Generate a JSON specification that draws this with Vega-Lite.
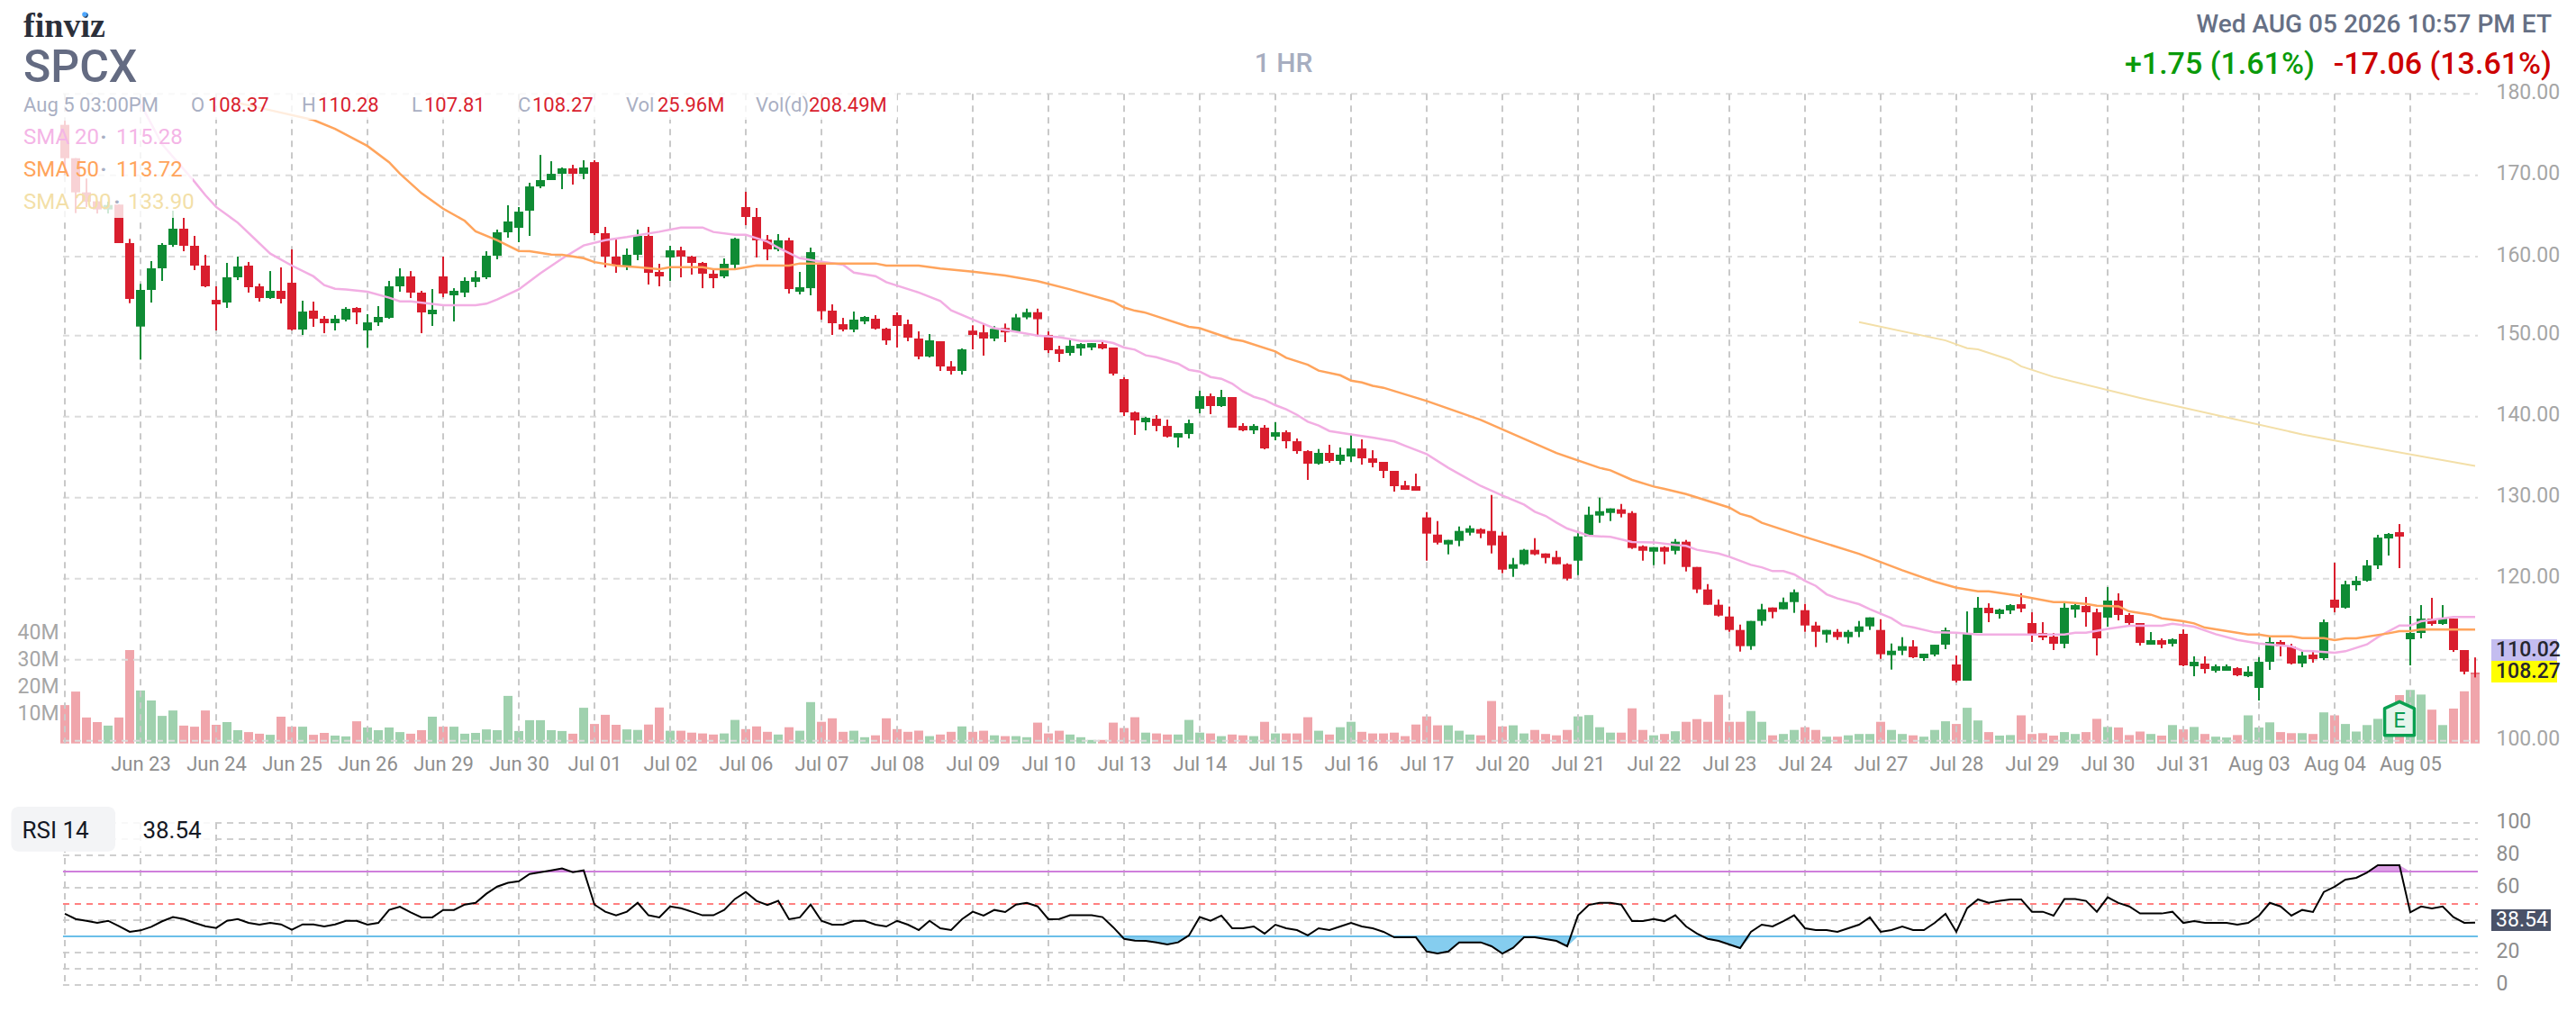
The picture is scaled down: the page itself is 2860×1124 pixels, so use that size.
{
"$schema":"https://vega.github.io/schema/vega-lite/v6.json",
"width":2860,"height":1124,"padding":0,"autosize":{"type":"none"},"background":"white",
"config":{"view":{"stroke":null},"text":{"font":"Roboto"},"axis":{"labelFont":"Roboto"}},
"datasets":{
"days":[{"b":0},{"b":7},{"b":14},{"b":21},{"b":28},{"b":35},{"b":42},{"b":49},{"b":56},{"b":63},{"b":70},{"b":77},{"b":84},{"b":91},{"b":98},{"b":105},{"b":112},{"b":119},{"b":126},{"b":133},{"b":140},{"b":147},{"b":154},{"b":161},{"b":168},{"b":175},{"b":182},{"b":189},{"b":196},{"b":203},{"b":210},{"b":217}],
"priceGrid":[{"p":100},{"p":110},{"p":120},{"p":130},{"p":140},{"p":150},{"p":160},{"p":170},{"p":180}],
"rsiGrid":[{"r":100},{"r":90},{"r":80},{"r":60},{"r":40},{"r":20},{"r":10},{"r":0}],
"sma20":[{"b":7,"s":178.8},{"b":9,"s":173.8},{"b":12,"s":169.2},{"b":13,"s":167.56},{"b":14,"s":166.1},{"b":16,"s":164.17},{"b":19,"s":160.37},{"b":21,"s":158.86},{"b":23,"s":157.5},{"b":24,"s":156.39},{"b":25,"s":155.93},{"b":26,"s":155.85},{"b":28,"s":155.55},{"b":30,"s":154.8},{"b":31,"s":154.33},{"b":32,"s":154.33},{"b":35,"s":153.84},{"b":38,"s":153.84},{"b":39,"s":154.03},{"b":40,"s":154.56},{"b":42,"s":155.85},{"b":44,"s":157.9},{"b":46,"s":159.74},{"b":48,"s":161.37},{"b":50,"s":162.03},{"b":52,"s":162.4},{"b":55,"s":163.06},{"b":57,"s":163.58},{"b":59,"s":163.58},{"b":60,"s":163.03},{"b":62,"s":162.69},{"b":63,"s":162.69},{"b":65,"s":161.85},{"b":66,"s":161.1},{"b":68,"s":159.8},{"b":70,"s":159.35},{"b":72,"s":158.97},{"b":73,"s":157.98},{"b":75,"s":157.53},{"b":76,"s":156.77},{"b":79,"s":155.45},{"b":81,"s":154.37},{"b":82,"s":153.19},{"b":84,"s":152.04},{"b":86,"s":150.93},{"b":88,"s":150.48},{"b":90,"s":150},{"b":92,"s":149.81},{"b":94,"s":149.33},{"b":96,"s":149.33},{"b":97,"s":149.07},{"b":98,"s":148.52},{"b":99,"s":148.26},{"b":100,"s":147.56},{"b":101,"s":147.33},{"b":103,"s":146.52},{"b":104,"s":145.78},{"b":105,"s":145.56},{"b":106,"s":144.89},{"b":107,"s":144.67},{"b":108,"s":144.07},{"b":109,"s":143.11},{"b":110,"s":142.44},{"b":111,"s":142.07},{"b":112,"s":141.41},{"b":113,"s":140.89},{"b":114,"s":140.22},{"b":115,"s":139.37},{"b":116,"s":138.89},{"b":117,"s":138.22},{"b":119,"s":137.81},{"b":121,"s":137.41},{"b":123,"s":136.93},{"b":124,"s":136.4},{"b":126,"s":135.37},{"b":128,"s":133.67},{"b":129,"s":132.93},{"b":131,"s":131.44},{"b":133,"s":130.26},{"b":135,"s":129.15},{"b":136,"s":128.26},{"b":137,"s":127.74},{"b":138,"s":126.93},{"b":139,"s":126.19},{"b":141,"s":125.3},{"b":143,"s":125.15},{"b":145,"s":124.52},{"b":147,"s":124.48},{"b":149,"s":124.15},{"b":150,"s":124.04},{"b":151,"s":123.56},{"b":153,"s":123.11},{"b":154,"s":122.7},{"b":156,"s":121.7},{"b":157,"s":121.4},{"b":158,"s":120.93},{"b":159,"s":120.93},{"b":160,"s":120.52},{"b":161,"s":119.74},{"b":162,"s":119.11},{"b":163,"s":118.07},{"b":164,"s":117.56},{"b":166,"s":116.85},{"b":167,"s":116.22},{"b":169,"s":115.11},{"b":170,"s":114.26},{"b":171,"s":114},{"b":173,"s":113.37},{"b":175,"s":113.33},{"b":177,"s":113.11},{"b":182,"s":113.11},{"b":185,"s":113.11},{"b":186,"s":113.33},{"b":187,"s":113.33},{"b":189,"s":113.81},{"b":191,"s":114.19},{"b":194,"s":114.19},{"b":195,"s":114.44},{"b":197,"s":114.07},{"b":199,"s":113.15},{"b":201,"s":112.44},{"b":203,"s":112},{"b":206,"s":111.63},{"b":207,"s":111.11},{"b":208,"s":111.04},{"b":210,"s":110.85},{"b":211,"s":111.04},{"b":213,"s":111.89},{"b":214,"s":112.78},{"b":216,"s":114.22},{"b":217,"s":114.22},{"b":218,"s":114.74},{"b":221,"s":115.28},{"b":223,"s":115.28}],
"sma50":[{"b":16,"s":178.9},{"b":19,"s":178},{"b":23,"s":176.8},{"b":25,"s":175.7},{"b":28,"s":173.6},{"b":30,"s":171.6},{"b":31,"s":170.2},{"b":33,"s":167.8},{"b":35,"s":165.9},{"b":37,"s":164.4},{"b":38,"s":163.1},{"b":40,"s":162},{"b":42,"s":160.7},{"b":43,"s":160.66},{"b":45,"s":160.26},{"b":46,"s":160.22},{"b":48,"s":159.8},{"b":49,"s":159.3},{"b":51,"s":158.86},{"b":53,"s":158.67},{"b":55,"s":158.4},{"b":56,"s":158.67},{"b":59,"s":158.67},{"b":60,"s":158.4},{"b":62,"s":158.4},{"b":64,"s":158.9},{"b":67,"s":158.86},{"b":68,"s":159.13},{"b":75,"s":159.13},{"b":76,"s":158.86},{"b":79,"s":158.86},{"b":81,"s":158.5},{"b":84,"s":158.1},{"b":87,"s":157.6},{"b":90,"s":156.9},{"b":93,"s":155.85},{"b":97,"s":154.3},{"b":98,"s":153.56},{"b":99,"s":153.15},{"b":100,"s":152.89},{"b":104,"s":151.1},{"b":105,"s":150.93},{"b":108,"s":149.56},{"b":109,"s":149.33},{"b":112,"s":148.04},{"b":113,"s":147.26},{"b":115,"s":146.4},{"b":116,"s":145.67},{"b":118,"s":145.1},{"b":119,"s":144.44},{"b":120,"s":144.22},{"b":121,"s":143.8},{"b":122,"s":143.56},{"b":126,"s":141.93},{"b":131,"s":139.6},{"b":138,"s":135.5},{"b":142,"s":133.67},{"b":143,"s":133.37},{"b":145,"s":132.19},{"b":147,"s":131.37},{"b":148,"s":131.07},{"b":150,"s":130.44},{"b":154,"s":128.77},{"b":155,"s":128},{"b":156,"s":127.63},{"b":157,"s":126.89},{"b":161,"s":125.15},{"b":166,"s":123.07},{"b":170,"s":121.04},{"b":173,"s":119.63},{"b":175,"s":118.89},{"b":177,"s":118.44},{"b":178,"s":118.44},{"b":181,"s":117.85},{"b":184,"s":117.11},{"b":185,"s":117.11},{"b":187,"s":116.89},{"b":188,"s":116.67},{"b":190,"s":116.59},{"b":191,"s":115.96},{"b":193,"s":115.56},{"b":194,"s":115.11},{"b":196,"s":114.74},{"b":197,"s":114.48},{"b":198,"s":113.96},{"b":202,"s":113.11},{"b":203,"s":113.11},{"b":204,"s":112.89},{"b":206,"s":112.89},{"b":207,"s":112.67},{"b":209,"s":112.67},{"b":210,"s":112.41},{"b":211,"s":112.63},{"b":212,"s":112.63},{"b":215,"s":113.26},{"b":216,"s":113.52},{"b":217,"s":113.52},{"b":218,"s":113.75},{"b":223,"s":113.72}],
"sma200":[{"b":166,"s":151.7},{"b":174,"s":149.4},{"b":176,"s":148.44},{"b":177,"s":148.3},{"b":180,"s":147},{"b":181,"s":146.2},{"b":184,"s":144.9},{"b":192,"s":142.3},{"b":207,"s":137.8},{"b":213,"s":136.3},{"b":223,"s":133.9}],
"bars":[
{"b":0,"o":176.2,"h":176.7,"l":170,"c":172.1,"v":14.2,"r":44},
{"b":1,"o":172.1,"h":172.1,"l":165.35,"c":167.9,"v":19.2,"r":40.7},
{"b":2,"o":167.9,"h":169.6,"l":166.1,"c":166.75,"v":9.6,"r":39.6},
{"b":3,"o":166.8,"h":166.9,"l":165.3,"c":165.8,"v":7.9,"r":38.3},
{"b":4,"o":165.8,"h":166.75,"l":165.3,"c":166.35,"v":6.6,"r":39.6},
{"b":5,"o":166.4,"h":166.4,"l":161.66,"c":161.66,"v":9.6,"r":36.3},
{"b":6,"o":161.66,"h":162.18,"l":154.1,"c":154.64,"v":34.6,"r":32.8},
{"b":7,"o":151.14,"h":156.54,"l":147.03,"c":155.78,"v":19.6,"r":33.7},
{"b":8,"o":155.78,"h":159.43,"l":154.18,"c":158.52,"v":15.9,"r":35.9},
{"b":9,"o":158.52,"h":161.66,"l":156.92,"c":161.44,"v":10.2,"r":39.3},
{"b":10,"o":161.44,"h":165.65,"l":161.2,"c":163.43,"v":12.2,"r":41.9},
{"b":11,"o":163.43,"h":164.76,"l":160.66,"c":161.33,"v":6.6,"r":40.7},
{"b":12,"o":161.33,"h":162.55,"l":158.29,"c":158.86,"v":6.2,"r":38.3},
{"b":13,"o":158.86,"h":160.22,"l":156.12,"c":156.24,"v":12.2,"r":36.3},
{"b":14,"o":154.52,"h":156.24,"l":150.65,"c":153.95,"v":6.9,"r":35.2},
{"b":15,"o":154.18,"h":159.2,"l":153.5,"c":157.38,"v":7.9,"r":39.6},
{"b":16,"o":157.38,"h":160,"l":157.03,"c":158.75,"v":4.9,"r":40.7},
{"b":17,"o":158.86,"h":159.32,"l":155.44,"c":156.12,"v":4.2,"r":38.3},
{"b":18,"o":156.24,"h":156.58,"l":154.3,"c":154.75,"v":3.6,"r":37.2},
{"b":19,"o":154.75,"h":158.17,"l":154.64,"c":155.67,"v":3.2,"r":38.3},
{"b":20,"o":155.67,"h":158.63,"l":154.07,"c":154.64,"v":9.9,"r":37.4},
{"b":21,"o":156.69,"h":160.89,"l":150.65,"c":150.76,"v":6.2,"r":34.1},
{"b":22,"o":150.76,"h":154.41,"l":150.08,"c":153.04,"v":6.2,"r":37.4},
{"b":23,"o":153.16,"h":154.3,"l":151.1,"c":152.13,"v":3.2,"r":37.4},
{"b":24,"o":152.13,"h":152.47,"l":150.3,"c":151.56,"v":3.9,"r":36.1},
{"b":25,"o":151.56,"h":152.59,"l":150.65,"c":152.13,"v":2.9,"r":37.4},
{"b":26,"o":152.02,"h":153.6,"l":151.79,"c":153.38,"v":2.6,"r":39.6},
{"b":27,"o":153.5,"h":153.6,"l":151.44,"c":152.93,"v":8.2,"r":39.6},
{"b":28,"o":150.65,"h":152.7,"l":148.48,"c":151.67,"v":5.9,"r":37.2},
{"b":29,"o":151.67,"h":153.73,"l":151.22,"c":152.36,"v":4.9,"r":38.3},
{"b":30,"o":152.24,"h":156.92,"l":152.13,"c":156.24,"v":5.9,"r":46.3},
{"b":31,"o":156.24,"h":158.52,"l":155.55,"c":157.49,"v":4.2,"r":48.3},
{"b":32,"o":157.49,"h":158.17,"l":154.75,"c":155.44,"v":3.6,"r":44.8},
{"b":33,"o":155.44,"h":155.67,"l":150.3,"c":152.93,"v":4.9,"r":41.7},
{"b":34,"o":152.7,"h":155.89,"l":151.22,"c":153.27,"v":9.9,"r":41.7},
{"b":35,"o":157.49,"h":160,"l":154.87,"c":155.32,"v":6.2,"r":46.3},
{"b":36,"o":155.1,"h":156,"l":151.79,"c":155.67,"v":6.2,"r":46.3},
{"b":37,"o":155.44,"h":157.38,"l":154.87,"c":156.92,"v":3.6,"r":49.6},
{"b":38,"o":156.81,"h":158.17,"l":156.12,"c":157.38,"v":3.9,"r":50.7},
{"b":39,"o":157.38,"h":160.66,"l":157.15,"c":160.11,"v":5.2,"r":56.3},
{"b":40,"o":160.11,"h":163.32,"l":159.66,"c":162.99,"v":4.9,"r":60.7},
{"b":41,"o":162.99,"h":166.31,"l":162.32,"c":164.32,"v":17.6,"r":63},
{"b":42,"o":163.54,"h":166.09,"l":161.77,"c":165.53,"v":4.6,"r":64},
{"b":43,"o":165.65,"h":169.08,"l":162.55,"c":168.63,"v":8.6,"r":68.5},
{"b":44,"o":168.63,"h":172.5,"l":168.41,"c":169.41,"v":8.6,"r":69.6},
{"b":45,"o":169.41,"h":171.73,"l":169.41,"c":170.18,"v":4.9,"r":70.7},
{"b":46,"o":170.18,"h":170.96,"l":168.3,"c":170.85,"v":4.6,"r":71.9},
{"b":47,"o":170.85,"h":171.29,"l":168.86,"c":170.18,"v":3.6,"r":69.6},
{"b":48,"o":170.18,"h":171.85,"l":169.52,"c":170.96,"v":13.2,"r":70.7},
{"b":49,"o":171.62,"h":171.85,"l":162.66,"c":162.88,"v":7.2,"r":49.6},
{"b":50,"o":162.88,"h":163.65,"l":158.63,"c":160,"v":10.6,"r":45.2},
{"b":51,"o":160,"h":162.1,"l":157.95,"c":158.86,"v":6.9,"r":43},
{"b":52,"o":158.86,"h":161,"l":158.29,"c":160.22,"v":5.2,"r":45.2},
{"b":53,"o":160.22,"h":163.32,"l":159.54,"c":162.55,"v":5,"r":50.7},
{"b":54,"o":162.55,"h":163.65,"l":156.46,"c":157.95,"v":7,"r":43},
{"b":55,"o":158.06,"h":159.09,"l":156.24,"c":157.49,"v":13.3,"r":41.7},
{"b":56,"o":159.89,"h":161.33,"l":156.92,"c":160.77,"v":4.7,"r":48.5},
{"b":57,"o":160.77,"h":161.22,"l":157.38,"c":160,"v":4.7,"r":47.4},
{"b":58,"o":160,"h":160.1,"l":157.72,"c":159.2,"v":4,"r":45.2},
{"b":59,"o":159.2,"h":159.32,"l":156,"c":157.83,"v":3.7,"r":43},
{"b":60,"o":157.83,"h":158.29,"l":156,"c":157.26,"v":3.3,"r":43},
{"b":61,"o":157.49,"h":159.77,"l":157.26,"c":159.09,"v":3.7,"r":46.3},
{"b":62,"o":158.97,"h":162.32,"l":158.4,"c":162.2,"v":8.7,"r":53.1},
{"b":63,"o":166.09,"h":167.97,"l":163.87,"c":164.87,"v":5.3,"r":57.4},
{"b":64,"o":164.87,"h":165.98,"l":159.89,"c":162,"v":6.3,"r":51.9},
{"b":65,"o":162.1,"h":162.66,"l":159.54,"c":160.89,"v":4.3,"r":49.4},
{"b":66,"o":160.89,"h":162.77,"l":160.66,"c":162,"v":3.3,"r":51.9},
{"b":67,"o":162,"h":162.32,"l":155.32,"c":155.89,"v":6,"r":40.6},
{"b":68,"o":155.55,"h":158.06,"l":155.21,"c":156.12,"v":4.7,"r":41.7},
{"b":69,"o":156,"h":161.11,"l":155.1,"c":160.55,"v":15.3,"r":49.6},
{"b":70,"o":159.09,"h":159.43,"l":152.01,"c":153.08,"v":8,"r":39.6},
{"b":71,"o":153.16,"h":153.95,"l":150.08,"c":151.56,"v":9.3,"r":37.2},
{"b":72,"o":151.44,"h":152.24,"l":150.53,"c":150.76,"v":4.3,"r":37.2},
{"b":73,"o":150.76,"h":153.04,"l":150.42,"c":152.02,"v":4.7,"r":39.6},
{"b":74,"o":151.79,"h":152.47,"l":151.44,"c":152.36,"v":2.3,"r":39.6},
{"b":75,"o":152.13,"h":152.59,"l":150.76,"c":150.87,"v":3,"r":37.2},
{"b":76,"o":150.87,"h":150.99,"l":148.85,"c":149.4,"v":9.3,"r":36.1},
{"b":77,"o":152.59,"h":152.93,"l":148.52,"c":151.22,"v":5.3,"r":39.6},
{"b":78,"o":151.44,"h":152.02,"l":149.3,"c":149.74,"v":4.3,"r":37.2},
{"b":79,"o":149.63,"h":150.53,"l":147.07,"c":147.41,"v":4.7,"r":33.9},
{"b":80,"o":147.41,"h":150.19,"l":147.3,"c":149.41,"v":2.7,"r":39.6},
{"b":81,"o":149.3,"h":149.3,"l":145.63,"c":146.19,"v":3.3,"r":35},
{"b":82,"o":146.19,"h":146.85,"l":145.19,"c":145.63,"v":4.3,"r":33.9},
{"b":83,"o":145.63,"h":148.41,"l":145.19,"c":148.3,"v":6.3,"r":40.6},
{"b":84,"o":150.63,"h":151.3,"l":148.3,"c":150.07,"v":4.3,"r":45.2},
{"b":85,"o":150.41,"h":151.52,"l":147.52,"c":149.63,"v":4.7,"r":42.8},
{"b":86,"o":149.63,"h":151.19,"l":149.3,"c":150.85,"v":3,"r":46.3},
{"b":87,"o":150.96,"h":151.52,"l":149.19,"c":150.41,"v":2.7,"r":45},
{"b":88,"o":150.52,"h":152.74,"l":150.52,"c":152.3,"v":2.7,"r":49.6},
{"b":89,"o":152.3,"h":153.41,"l":152.07,"c":152.96,"v":2.3,"r":50.7},
{"b":90,"o":152.96,"h":153.41,"l":149.85,"c":152.07,"v":7.7,"r":48.5},
{"b":91,"o":150.07,"h":150.52,"l":147.85,"c":148.19,"v":3.7,"r":40.6},
{"b":92,"o":148.3,"h":148.74,"l":146.74,"c":147.74,"v":4.7,"r":40.7},
{"b":93,"o":147.85,"h":149.52,"l":147.52,"c":148.74,"v":3.3,"r":43},
{"b":94,"o":148.41,"h":149.07,"l":147.52,"c":148.96,"v":2.3,"r":43},
{"b":95,"o":148.52,"h":149.07,"l":148.19,"c":149.07,"v":1.3,"r":43},
{"b":96,"o":148.96,"h":149.19,"l":148.3,"c":148.41,"v":1.3,"r":41.9},
{"b":97,"o":148.52,"h":148.52,"l":145.07,"c":145.3,"v":7.7,"r":35.6},
{"b":98,"o":144.63,"h":144.85,"l":140.07,"c":140.52,"v":5.7,"r":28.5},
{"b":99,"o":140.52,"h":140.63,"l":137.74,"c":139.52,"v":9.7,"r":27.4},
{"b":100,"o":139.3,"h":139.96,"l":138.3,"c":139.85,"v":4,"r":27.2},
{"b":101,"o":139.74,"h":140.19,"l":138.19,"c":138.85,"v":3.7,"r":26.3},
{"b":102,"o":138.85,"h":139.63,"l":137.41,"c":137.52,"v":3.3,"r":25},
{"b":103,"o":137.41,"h":137.96,"l":136.19,"c":137.96,"v":3.3,"r":26.3},
{"b":104,"o":137.85,"h":139.63,"l":137.3,"c":139.19,"v":8.7,"r":30.6},
{"b":105,"o":140.96,"h":143.19,"l":140.41,"c":142.52,"v":4,"r":41.9},
{"b":106,"o":142.52,"h":142.85,"l":140.3,"c":141.3,"v":3.7,"r":39.6},
{"b":107,"o":141.3,"h":143.3,"l":141.19,"c":142.41,"v":2.7,"r":42.8},
{"b":108,"o":142.41,"h":142.41,"l":138.63,"c":138.63,"v":3.3,"r":35},
{"b":109,"o":138.85,"h":139.19,"l":138.19,"c":138.3,"v":3,"r":35},
{"b":110,"o":138.3,"h":139.07,"l":137.85,"c":138.85,"v":2.7,"r":36.1},
{"b":111,"o":138.63,"h":138.96,"l":135.96,"c":136.07,"v":8,"r":31.7},
{"b":112,"o":137.52,"h":139.3,"l":137.07,"c":138.07,"v":3.7,"r":37.2},
{"b":113,"o":138.07,"h":138.3,"l":136.07,"c":136.96,"v":3.7,"r":35},
{"b":114,"o":136.96,"h":137.3,"l":135.41,"c":135.74,"v":3.7,"r":33.9},
{"b":115,"o":135.74,"h":135.85,"l":132.19,"c":134.19,"v":9.7,"r":30.6},
{"b":116,"o":134.19,"h":136,"l":134.07,"c":135.52,"v":4.7,"r":35},
{"b":117,"o":135.52,"h":136.52,"l":134.3,"c":134.52,"v":3.3,"r":33.9},
{"b":118,"o":134.52,"h":136.19,"l":134.07,"c":135.3,"v":6,"r":36.1},
{"b":119,"o":135.07,"h":137.74,"l":134.41,"c":136.07,"v":8,"r":38.3},
{"b":120,"o":136.07,"h":137.19,"l":134.07,"c":134.85,"v":4.3,"r":36.1},
{"b":121,"o":134.85,"h":135.85,"l":133.74,"c":134.3,"v":3.7,"r":35},
{"b":122,"o":134.41,"h":134.41,"l":132.41,"c":133.3,"v":3.7,"r":32.8},
{"b":123,"o":133.3,"h":133.3,"l":130.74,"c":131.41,"v":4,"r":29.4},
{"b":124,"o":131.52,"h":132.07,"l":130.96,"c":130.96,"v":2.7,"r":29.4},
{"b":125,"o":131.41,"h":132.96,"l":130.85,"c":130.85,"v":7,"r":29.4},
{"b":126,"o":127.56,"h":128.22,"l":122.22,"c":125.56,"v":10,"r":20.7},
{"b":127,"o":125.44,"h":127.11,"l":124.22,"c":124.44,"v":6.7,"r":19.4},
{"b":128,"o":124.22,"h":124.78,"l":123,"c":124.78,"v":6.7,"r":20.7},
{"b":129,"o":124.67,"h":126.44,"l":124,"c":125.89,"v":4.7,"r":26.3},
{"b":130,"o":125.67,"h":126.56,"l":125.33,"c":126.22,"v":3.3,"r":26.3},
{"b":131,"o":126.11,"h":126.22,"l":125,"c":125.56,"v":3,"r":26.3},
{"b":132,"o":125.89,"h":130.33,"l":123.11,"c":124.11,"v":15.7,"r":23.9},
{"b":133,"o":125.33,"h":125.78,"l":120.67,"c":121.11,"v":6.3,"r":19.4},
{"b":134,"o":121.22,"h":122.56,"l":120.22,"c":121.78,"v":6.7,"r":23},
{"b":135,"o":121.78,"h":123.67,"l":121.67,"c":123.56,"v":3.7,"r":29.4},
{"b":136,"o":123.56,"h":125,"l":122.89,"c":123,"v":5,"r":29.4},
{"b":137,"o":123.11,"h":123.11,"l":121.89,"c":122.56,"v":3.5,"r":28.3},
{"b":138,"o":122.67,"h":123.44,"l":121.78,"c":121.78,"v":3,"r":27.2},
{"b":139,"o":121.78,"h":121.89,"l":119.78,"c":120,"v":5,"r":23.9},
{"b":140,"o":122.22,"h":125.78,"l":120.44,"c":125.22,"v":10,"r":43},
{"b":141,"o":125.22,"h":128.89,"l":125.22,"c":127.89,"v":10.5,"r":49.4},
{"b":142,"o":127.78,"h":130,"l":126.89,"c":128.33,"v":6,"r":50.7},
{"b":143,"o":128.11,"h":128.67,"l":127.11,"c":128.67,"v":4,"r":50.7},
{"b":144,"o":128.56,"h":129.22,"l":127.56,"c":128,"v":4,"r":49.6},
{"b":145,"o":128.11,"h":128.33,"l":123.67,"c":123.78,"v":13,"r":39.4},
{"b":146,"o":124,"h":124.11,"l":122.22,"c":123.44,"v":5,"r":39.4},
{"b":147,"o":123.33,"h":123.89,"l":121.67,"c":123.89,"v":3,"r":40.7},
{"b":148,"o":123.89,"h":124,"l":121.78,"c":123.33,"v":3.5,"r":39.4},
{"b":149,"o":123.44,"h":124.89,"l":123,"c":124.56,"v":4.5,"r":43},
{"b":150,"o":124.56,"h":124.78,"l":120.89,"c":121.44,"v":8,"r":36.1},
{"b":151,"o":121.44,"h":121.44,"l":118.22,"c":118.67,"v":9,"r":31.7},
{"b":152,"o":118.67,"h":119.33,"l":116.78,"c":116.78,"v":8,"r":28.5},
{"b":153,"o":116.78,"h":117.44,"l":115.33,"c":115.44,"v":18,"r":27.2},
{"b":154,"o":115.33,"h":116.56,"l":113.44,"c":113.67,"v":8,"r":25},
{"b":155,"o":113.67,"h":114.33,"l":111,"c":111.67,"v":8,"r":22.8},
{"b":156,"o":111.67,"h":114.78,"l":111.22,"c":114.78,"v":12,"r":32.8},
{"b":157,"o":114.78,"h":116.89,"l":114.22,"c":116.22,"v":8,"r":37.2},
{"b":158,"o":116.44,"h":116.44,"l":115.11,"c":115.89,"v":3,"r":36.1},
{"b":159,"o":116.22,"h":117.67,"l":116.22,"c":117.11,"v":3.5,"r":39.4},
{"b":160,"o":117.11,"h":118.67,"l":115.78,"c":118.33,"v":5,"r":43},
{"b":161,"o":116.11,"h":116.89,"l":113.44,"c":114.22,"v":6,"r":35},
{"b":162,"o":114.22,"h":114.67,"l":111.56,"c":113.44,"v":5,"r":33.9},
{"b":163,"o":113.11,"h":113.67,"l":112.11,"c":113.67,"v":2.5,"r":33.9},
{"b":164,"o":113.44,"h":113.78,"l":112.44,"c":112.78,"v":2.5,"r":32.8},
{"b":165,"o":112.78,"h":113.67,"l":112,"c":113.44,"v":3,"r":35},
{"b":166,"o":113.44,"h":114.78,"l":112.78,"c":114.11,"v":3.5,"r":37.2},
{"b":167,"o":114.11,"h":115.22,"l":113.67,"c":115.22,"v":3.5,"r":41.7},
{"b":168,"o":113.67,"h":115,"l":110.11,"c":110.67,"v":8,"r":32.8},
{"b":169,"o":110.56,"h":112,"l":108.78,"c":111.11,"v":5,"r":33.9},
{"b":170,"o":111.11,"h":112.78,"l":110.56,"c":111.67,"v":3.5,"r":36.1},
{"b":171,"o":111.63,"h":112.41,"l":110.19,"c":110.3,"v":3,"r":33.9},
{"b":172,"o":110.19,"h":110.74,"l":109.85,"c":110.74,"v":2.5,"r":33.9},
{"b":173,"o":110.63,"h":111.85,"l":110.41,"c":111.85,"v":5,"r":38.3},
{"b":174,"o":111.85,"h":113.96,"l":111.3,"c":113.63,"v":8.2,"r":43.9},
{"b":175,"o":109.41,"h":110.52,"l":107.19,"c":107.41,"v":7.2,"r":32.8},
{"b":176,"o":107.41,"h":115.96,"l":107.41,"c":113.3,"v":13.2,"r":47.4},
{"b":177,"o":113.3,"h":117.74,"l":113.3,"c":116.41,"v":8.5,"r":52.8},
{"b":178,"o":116.41,"h":116.96,"l":114.63,"c":115.74,"v":4.2,"r":50.7},
{"b":179,"o":115.63,"h":116.3,"l":115.07,"c":116.19,"v":2.9,"r":51.9},
{"b":180,"o":116.07,"h":116.85,"l":115.63,"c":116.74,"v":3.1,"r":52.8},
{"b":181,"o":116.85,"h":118.19,"l":115.85,"c":116.3,"v":10.4,"r":52.8},
{"b":182,"o":114.52,"h":115.85,"l":112.19,"c":113.19,"v":3.5,"r":45.2},
{"b":183,"o":113.3,"h":114.63,"l":112.41,"c":112.74,"v":3.8,"r":45.2},
{"b":184,"o":112.85,"h":113.3,"l":111.19,"c":111.96,"v":2.9,"r":42.8},
{"b":185,"o":111.96,"h":116.96,"l":111.41,"c":116.41,"v":4.2,"r":53},
{"b":186,"o":116.19,"h":117.07,"l":115.19,"c":116.74,"v":3.5,"r":53},
{"b":187,"o":116.63,"h":117.74,"l":114.07,"c":115.85,"v":4.2,"r":51.9},
{"b":188,"o":115.85,"h":116.3,"l":110.52,"c":112.63,"v":9.1,"r":45.2},
{"b":189,"o":115.19,"h":118.96,"l":114.07,"c":117.3,"v":6.1,"r":54.1},
{"b":190,"o":117.3,"h":118.19,"l":114.85,"c":115.52,"v":5.9,"r":50.6},
{"b":191,"o":115.52,"h":115.74,"l":114.3,"c":114.52,"v":3.1,"r":48.5},
{"b":192,"o":114.52,"h":114.52,"l":111.74,"c":112.07,"v":4.4,"r":44.1},
{"b":193,"o":111.85,"h":113.41,"l":111.85,"c":112.41,"v":3.5,"r":44.1},
{"b":194,"o":112.41,"h":112.63,"l":111.41,"c":111.85,"v":2.9,"r":44.1},
{"b":195,"o":111.96,"h":112.63,"l":111.63,"c":112.52,"v":6.8,"r":45.2},
{"b":196,"o":113.19,"h":113.74,"l":109.19,"c":109.3,"v":5.2,"r":38.3},
{"b":197,"o":109.19,"h":110.41,"l":107.96,"c":109.74,"v":6.1,"r":39.4},
{"b":198,"o":109.52,"h":110.41,"l":108.3,"c":108.85,"v":3.5,"r":38.3},
{"b":199,"o":108.63,"h":109.41,"l":108.41,"c":109.19,"v":2.5,"r":38.3},
{"b":200,"o":108.63,"h":109.41,"l":108.63,"c":109.19,"v":2.2,"r":38.3},
{"b":201,"o":108.96,"h":109.07,"l":107.96,"c":108.07,"v":3.1,"r":37.2},
{"b":202,"o":107.96,"h":109.19,"l":107.85,"c":108.52,"v":10.4,"r":38.3},
{"b":203,"o":106.52,"h":110.3,"l":104.96,"c":109.74,"v":5.9,"r":42.8},
{"b":204,"o":109.74,"h":112.85,"l":108.74,"c":112.19,"v":7.8,"r":50.7},
{"b":205,"o":112.19,"h":112.41,"l":110.41,"c":111.63,"v":4.2,"r":48.5},
{"b":206,"o":111.63,"h":111.96,"l":109.41,"c":109.52,"v":3.8,"r":42.8},
{"b":207,"o":109.52,"h":111.07,"l":109.07,"c":110.52,"v":3.8,"r":46.3},
{"b":208,"o":110.63,"h":111.07,"l":109.63,"c":110.07,"v":3.5,"r":45},
{"b":209,"o":110.19,"h":114.96,"l":109.96,"c":114.63,"v":11.5,"r":57.4},
{"b":210,"o":117.41,"h":121.96,"l":115.85,"c":116.41,"v":10.4,"r":60.6},
{"b":211,"o":116.41,"h":119.74,"l":116.3,"c":119.3,"v":7.2,"r":65},
{"b":212,"o":119.19,"h":120.3,"l":118.52,"c":119.74,"v":4.4,"r":66.1},
{"b":213,"o":119.74,"h":122.3,"l":119.63,"c":121.63,"v":6.8,"r":69.4},
{"b":214,"o":121.63,"h":125.41,"l":121.19,"c":125.07,"v":9.1,"r":73.9},
{"b":215,"o":124.96,"h":125.63,"l":122.85,"c":125.52,"v":6,"r":73.9},
{"b":216,"o":125.74,"h":126.74,"l":121.3,"c":125.19,"v":17.9,"r":73.9},
{"b":217,"o":112.52,"h":115.41,"l":109.3,"c":113.3,"v":19.8,"r":44.8},
{"b":218,"o":113.3,"h":116.74,"l":112.63,"c":115.07,"v":18.1,"r":48.4},
{"b":219,"o":115.07,"h":117.63,"l":114.19,"c":114.41,"v":12.5,"r":47.2},
{"b":220,"o":114.41,"h":116.74,"l":114.3,"c":115.07,"v":6.8,"r":48.4},
{"b":221,"o":115.07,"h":115.07,"l":110.96,"c":111.19,"v":12.9,"r":41.8},
{"b":222,"o":111.19,"h":111.19,"l":108.19,"c":108.52,"v":19.3,"r":38.4},
{"b":223,"o":108.37,"h":110.28,"l":107.81,"c":108.27,"v":25.96,"r":38.54}
]},
"data":{"name":"bars"},
"resolve":{"scale":{"y":"independent"},"axis":{"x":"independent","y":"independent"}},
"layer":[
{"layer":[
 {"mark":{"type":"bar","size":10,"orient":"vertical","opacity":0.4},"encoding":{
  "x":{"field":"b","type":"quantitative","title":null,"scale":{"domain":[-6,232.333],"nice":false,"zero":false,"padding":0},
  "axis":{"orient":"bottom","offset":-289,"values":[7,14,21,28,35,42,49,56,63,70,77,84,91,98,105,112,119,126,133,140,147,154,161,168,175,182,189,196,203,210,217],
  "labelExpr":"['Jun 23','Jun 24','Jun 25','Jun 26','Jun 29','Jun 30','Jul 01','Jul 02','Jul 06','Jul 07','Jul 08','Jul 09','Jul 10','Jul 13','Jul 14','Jul 15','Jul 16','Jul 17','Jul 20','Jul 21','Jul 22','Jul 23','Jul 24','Jul 27','Jul 28','Jul 29','Jul 30','Jul 31','Aug 03','Aug 04','Aug 05'][datum.value/7-1]",
  "domain":false,"ticks":false,"grid":false,"labelFontSize":22,"labelColor":"#8e8e8e","labelPadding":3,"labelOverlap":false,"labelFlush":false,"title":null}},
  "y":{"field":"v","type":"quantitative","title":null,"scale":{"domain":[0,40],"range":[825.7,705.7],"nice":false},"axis":{"orient":"left","offset":-70,"values":[10,20,30,40],"labelExpr":"datum.value+'M'","domain":false,"ticks":false,"grid":false,"labelFontSize":23,"labelColor":"#a6a6a6","labelPadding":5,"labelOffset":-3.5,"title":null}},
  "color":{"condition":{"test":"datum.c>=datum.o","value":"#0f8b34"},"value":"#d91e2e"}}}
]},
{"layer":[
 {"data":{"name":"priceGrid"},"mark":{"type":"rule","color":"#dcdcdc","strokeWidth":2,"strokeDash":[7,6]},"encoding":{
  "y":{"field":"p","type":"quantitative","title":null,"scale":{"domain":[100,150,160,170,180],"range":[822.7,372.7,285,194.7,104.3],"nice":false,"zero":false},"axis":{"orient":"right","offset":-95,"values":[100,120,130,140,150,160,170,180],"format":".2f","domain":false,"ticks":false,"grid":false,"labelFontSize":23,"labelColor":"#a6a6a6","labelPadding":6,"labelAlign":"left","labelOffset":-2,"title":null}},
  "x":{"datum":-0.17,"axis":null},"x2":{"datum":223.25}}}
]},
{"layer":[
 {"data":{"name":"days"},"mark":{"type":"rule","color":"#c9c9c9","strokeWidth":2,"strokeDash":[7,6]},"encoding":{"x":{"field":"b","type":"quantitative","axis":null},"y":{"datum":180,"axis":null,"scale":{"domain":[100,150,160,170,180],"range":[822.7,372.7,285,194.7,104.3],"nice":false,"zero":false}},"y2":{"datum":99.7}}},
 {"mark":{"type":"rule","strokeWidth":2},"encoding":{"x":{"field":"b","type":"quantitative","axis":null},"y":{"field":"l","type":"quantitative","axis":null},"y2":{"field":"h"},"color":{"condition":{"test":"datum.c>=datum.o","value":"#0f8b34"},"value":"#d91e2e"}}},
 {"mark":{"type":"bar","size":10,"orient":"vertical"},"encoding":{"x":{"field":"b","type":"quantitative","axis":null},"y":{"field":"o","type":"quantitative","axis":null},"y2":{"field":"c"},"color":{"condition":{"test":"datum.c>=datum.o","value":"#0f8b34"},"value":"#d91e2e"}}},
 {"data":{"name":"sma20"},"mark":{"type":"line","color":"#f2aee3","strokeWidth":2.5},"encoding":{"x":{"field":"b","type":"quantitative","axis":null},"y":{"field":"s","type":"quantitative","axis":null}}},
 {"data":{"name":"sma50"},"mark":{"type":"line","color":"#ffa45c","strokeWidth":2.5},"encoding":{"x":{"field":"b","type":"quantitative","axis":null},"y":{"field":"s","type":"quantitative","axis":null}}},
 {"data":{"name":"sma200"},"mark":{"type":"line","color":"#f3dfa8","strokeWidth":2},"encoding":{"x":{"field":"b","type":"quantitative","axis":null},"y":{"field":"s","type":"quantitative","axis":null}}},
 {"data":{"values":[{"t":"legend panel"}]},"mark":{"type":"rect","fill":"white","opacity":0.8},"encoding":{"x":{"datum":-6,"axis":null},"x2":{"datum":11.83},"y":{"datum":181,"axis":null},"y2":{"datum":164.76}}},
 {"data":{"values":[{"t":"info panel"}]},"mark":{"type":"rect","fill":"white","opacity":0.8},"encoding":{"x":{"datum":11.83,"axis":null},"x2":{"datum":77},"y":{"datum":181,"axis":null},"y2":{"datum":176.83}}},
 {"data":{"values":[{"t":"finviz"}]},"mark":{"type":"text","font":"Liberation Serif","fontWeight":"bold","fontSize":38,"align":"left","color":"#2b2f3a"},"encoding":{"x":{"datum":-3.83,"axis":null},"y":{"datum":188.2,"axis":null},"text":{"field":"t"}}},
 {"data":{"values":[{"t":"dot"}]},"mark":{"type":"point","filled":true,"size":30,"color":"#4da6ff","opacity":1},"encoding":{"x":{"datum":1.83,"axis":null},"y":{"datum":189.77,"axis":null}}},
 {"data":{"values":[{"t":"SPCX"}]},"mark":{"type":"text","fontWeight":500,"fontSize":50,"align":"left","color":"#646b82"},"encoding":{"x":{"datum":-3.83,"axis":null},"y":{"datum":183.15,"axis":null},"text":{"field":"t"}}},
 {"data":{"values":[{"t":"1 HR"}]},"mark":{"type":"text","fontWeight":500,"fontSize":30,"align":"center","color":"#a6adc0"},"encoding":{"x":{"datum":112.75,"axis":null},"y":{"datum":183.68,"axis":null},"text":{"field":"t"}}},
 {"data":{"values":[{"t":"Wed AUG 05 2026 10:57 PM ET"}]},"mark":{"type":"text","fontWeight":500,"fontSize":28,"align":"right","color":"#667085"},"encoding":{"x":{"datum":230.08,"axis":null},"y":{"datum":188.44,"axis":null},"text":{"field":"t"}}},
 {"data":{"values":[{"t":"+1.75 (1.61%)"}]},"mark":{"type":"text","fontWeight":500,"fontSize":34,"align":"left","color":"#0a9a0a"},"encoding":{"x":{"datum":190.58,"axis":null},"y":{"datum":183.57,"axis":null},"text":{"field":"t"}}},
 {"data":{"values":[{"t":"-17.06 (13.61%)"}]},"mark":{"type":"text","fontWeight":500,"fontSize":34,"align":"right","color":"#cc0000"},"encoding":{"x":{"datum":230.08,"axis":null},"y":{"datum":183.57,"axis":null},"text":{"field":"t"}}},
 {"data":{"values":[{"t":"Aug 5 03:00PM","a":-3.83},{"t":"O","a":11.67},{"t":"H","a":21.92},{"t":"L","a":32.08},{"t":"C","a":41.92},{"t":"Vol","a":51.92},{"t":"Vol(d)","a":63.92}]},"mark":{"type":"text","fontSize":22,"align":"left","color":"#a9afc3"},"encoding":{"x":{"field":"a","type":"quantitative","axis":null},"y":{"datum":178.6,"axis":null},"text":{"field":"t"}}},
 {"data":{"values":[{"t":"108.37","a":13.25},{"t":"110.28","a":23.42},{"t":"107.81","a":33.25},{"t":"108.27","a":43.25},{"t":"25.96M","a":54.83},{"t":"208.49M","a":68.83}]},"mark":{"type":"text","fontSize":22,"align":"left","color":"#d91e2e"},"encoding":{"x":{"field":"a","type":"quantitative","axis":null},"y":{"datum":178.6,"axis":null},"text":{"field":"t"}}},
 {"data":{"values":[{"t":"SMA 20","a":-3.83},{"t":"115.28","a":4.75}]},"mark":{"type":"text","fontSize":24,"align":"left","color":"#f4b5e6"},"encoding":{"x":{"field":"a","type":"quantitative","axis":null},"y":{"datum":174.6,"axis":null},"text":{"field":"t"}}},
 {"data":{"values":[{"t":"SMA 50","a":-3.83},{"t":"113.72","a":4.75}]},"mark":{"type":"text","fontSize":24,"align":"left","color":"#ffa45c"},"encoding":{"x":{"field":"a","type":"quantitative","axis":null},"y":{"datum":170.6,"axis":null},"text":{"field":"t"}}},
 {"data":{"values":[{"t":"SMA 200","a":-3.83},{"t":"133.90","a":5.83}]},"mark":{"type":"text","fontSize":24,"align":"left","color":"#f3dfa8"},"encoding":{"x":{"field":"a","type":"quantitative","axis":null},"y":{"datum":166.64,"axis":null},"text":{"field":"t"}}},
 {"data":{"values":[{"t":"·","a":3.58,"p":174.6},{"t":"·","a":3.58,"p":170.6},{"t":"·","a":4.83,"p":166.64}]},"mark":{"type":"text","fontSize":24,"fontWeight":"bold","align":"center","color":"#a9afc3"},"encoding":{"x":{"field":"a","type":"quantitative","axis":null},"y":{"field":"p","type":"quantitative","axis":null},"text":{"field":"t"}}},
 {"data":{"values":[{"t":"tag"}]},"mark":{"type":"rect","fill":"#c4bdf0"},"encoding":{"x":{"datum":224.5,"axis":null},"x2":{"datum":230.58},"y":{"datum":112.52,"axis":null},"y2":{"datum":109.86}}},
 {"data":{"values":[{"t":"tag"}]},"mark":{"type":"rect","fill":"#ffff00"},"encoding":{"x":{"datum":224.5,"axis":null},"x2":{"datum":230.58},"y":{"datum":109.86,"axis":null},"y2":{"datum":107.19}}},
 {"data":{"values":[{"t":"110.02"}]},"mark":{"type":"text","fontSize":23,"fontWeight":500,"align":"left","color":"#26262e"},"encoding":{"x":{"datum":224.92,"axis":null},"y":{"datum":111.24,"axis":null},"text":{"field":"t"}}},
 {"data":{"values":[{"t":"108.27"}]},"mark":{"type":"text","fontSize":23,"fontWeight":500,"align":"left","color":"#26262e"},"encoding":{"x":{"datum":224.92,"axis":null},"y":{"datum":108.52,"axis":null},"text":{"field":"t"}}},
 {"data":{"values":[{"t":"earnings"}]},"mark":{"type":"point","filled":true,"fill":"#e6f5ec","stroke":"#0aa050","strokeWidth":3.5,"opacity":1,"size":1400,"strokeJoin":"round","shape":"M-0.88,-0.6 L0,-1 L0.88,-0.6 L0.88,1 L-0.88,1 Z"},"encoding":{"x":{"datum":216,"axis":null},"y":{"datum":102.74,"axis":null}}},
 {"data":{"values":[{"t":"E"}]},"mark":{"type":"text","fontSize":24,"align":"center","color":"#0a9a50"},"encoding":{"x":{"datum":216,"axis":null},"y":{"datum":102.4,"axis":null},"text":{"field":"t"}}}
]},
{"layer":[
 {"data":{"name":"rsiGrid"},"mark":{"type":"rule","color":"#cfcfcf","strokeWidth":2,"strokeDash":[7,6]},"encoding":{
  "y":{"field":"r","type":"quantitative","title":null,"scale":{"domain":[0,100],"range":[1094,914],"nice":false},"axis":{"orient":"right","offset":-95,"values":[0,20,60,80,100],"domain":false,"ticks":false,"grid":false,"labelFontSize":23,"labelColor":"#8e8e8e","labelPadding":6,"labelAlign":"left","labelOffset":-1.5,"title":null}},
  "x":{"datum":-0.17,"axis":null},"x2":{"datum":223.25}}}
]},
{"layer":[
 {"data":{"name":"days"},"mark":{"type":"rule","color":"#c9c9c9","strokeWidth":2,"strokeDash":[7,6]},"encoding":{"x":{"field":"b","type":"quantitative","axis":null},"y":{"datum":100,"axis":null,"scale":{"domain":[0,100],"range":[1094,914],"nice":false}},"y2":{"datum":0}}},
 {"data":{"values":[{"r":50}]},"mark":{"type":"rule","color":"#ff8080","strokeWidth":2,"strokeDash":[7,6]},"encoding":{"y":{"field":"r","type":"quantitative","axis":null},"x":{"datum":-0.17,"axis":null},"x2":{"datum":223.25}}}
]},
{"layer":[
 {"mark":{"type":"area","color":"#85cdef","opacity":1},"encoding":{"x":{"field":"b","type":"quantitative","axis":null},"y":{"field":"r","type":"quantitative","axis":null,"scale":{"domain":[0,30],"range":[1094,1040],"nice":false,"clamp":true}},"y2":{"datum":30}}}
]},
{"layer":[
 {"mark":{"type":"area","color":"#dda0e6","opacity":1},"encoding":{"x":{"field":"b","type":"quantitative","axis":null},"y":{"field":"r","type":"quantitative","axis":null,"scale":{"domain":[70,100],"range":[968,914],"nice":false,"zero":false,"clamp":true}},"y2":{"datum":70}}}
]},
{"layer":[
 {"data":{"values":[{"r":70}]},"mark":{"type":"rule","color":"#cf7fdc","strokeWidth":2},"encoding":{"y":{"field":"r","type":"quantitative","axis":null,"scale":{"domain":[0,100],"range":[1094,914],"nice":false}},"x":{"datum":-0.17,"axis":null},"x2":{"datum":223.25}}},
 {"data":{"values":[{"r":30}]},"mark":{"type":"rule","color":"#6bbfe9","strokeWidth":2},"encoding":{"y":{"field":"r","type":"quantitative","axis":null},"x":{"datum":-0.17,"axis":null},"x2":{"datum":223.25}}},
 {"mark":{"type":"line","color":"#000000","strokeWidth":2},"encoding":{"x":{"field":"b","type":"quantitative","axis":null},"y":{"field":"r","type":"quantitative","axis":null}}},
 {"data":{"values":[{"t":"rsi panel"}]},"mark":{"type":"rect","fill":"white","opacity":0.85},"encoding":{"x":{"datum":-6,"axis":null},"x2":{"datum":13.9},"y":{"datum":108,"axis":null},"y2":{"datum":82.4}}},
 {"data":{"values":[{"t":"chip"}]},"mark":{"type":"rect","fill":"#f3f4f6","cornerRadius":8},"encoding":{"x":{"datum":-4.96,"axis":null},"x2":{"datum":4.67},"y":{"datum":110,"axis":null},"y2":{"datum":82.4}}},
 {"data":{"values":[{"t":"RSI 14"}]},"mark":{"type":"text","fontSize":26,"align":"left","color":"#141824"},"encoding":{"x":{"datum":-3.96,"axis":null},"y":{"datum":95.2,"axis":null},"text":{"field":"t"}}},
 {"data":{"values":[{"t":"38.54"}]},"mark":{"type":"text","fontSize":26,"align":"left","color":"#141824"},"encoding":{"x":{"datum":7.2,"axis":null},"y":{"datum":95.2,"axis":null},"text":{"field":"t"}}},
 {"data":{"values":[{"t":"tag"}]},"mark":{"type":"rect","fill":"#4a5268"},"encoding":{"x":{"datum":224.5,"axis":null},"x2":{"datum":230},"y":{"datum":46.67,"axis":null},"y2":{"datum":33.33}}},
 {"data":{"values":[{"t":"38.54"}]},"mark":{"type":"text","fontSize":23,"align":"left","color":"white"},"encoding":{"x":{"datum":224.92,"axis":null},"y":{"datum":40,"axis":null},"text":{"field":"t"}}}
]}
]}
